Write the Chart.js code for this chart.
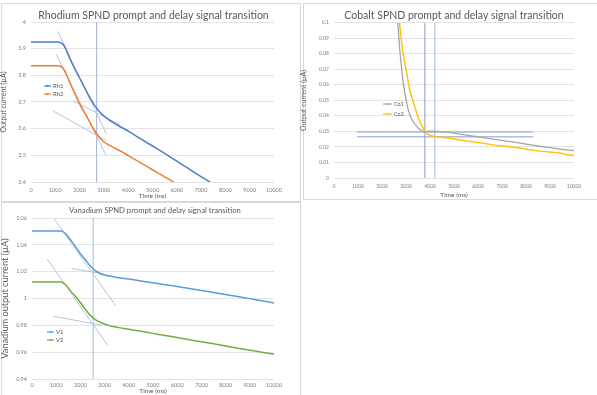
<!DOCTYPE html>
<html><head><meta charset="utf-8">
<script src="https://cdn.jsdelivr.net/npm/chart.js@4.4.0/dist/chart.umd.min.js"></script>
<style>
html,body{margin:0;padding:0;background:#fff;width:597px;height:395px;overflow:hidden;position:relative;}
.box{position:absolute;border:1px solid #d9d9d9;box-sizing:border-box;}
canvas{position:absolute;}
</style></head>
<body>
<div class="box" style="left:1px;top:3px;width:300px;height:199px"></div>
<div class="box" style="left:303px;top:3px;width:295px;height:197px"></div>
<div class="box" style="left:1px;top:202px;width:300px;height:195px"></div>
<div id="w1" style="position:absolute;left:0;top:0;width:300px;height:200px"><canvas id="c1"></canvas></div>
<div id="w2" style="position:absolute;left:300px;top:0;width:297px;height:200px"><canvas id="c2"></canvas></div>
<div id="w3" style="position:absolute;left:0;top:200px;width:300px;height:195px"><canvas id="c3"></canvas></div>
<script>
// ---------- Rhodium ----------
const rhTime = [0,500,1000,1100,1200,1300,1400,1600,1800,2000,2200,2400,2600,2800,3000,3200,3400,3600,3800,4000,4500,5000,5500,6000,6500,7000,7500,8000,9000,10000];
const rh1 = [3.925,3.925,3.925,3.925,3.923,3.918,3.905,3.862,3.825,3.790,3.755,3.720,3.690,3.665,3.648,3.634,3.622,3.611,3.601,3.591,3.563,3.535,3.507,3.478,3.449,3.420,3.392,3.363,3.306,3.249];
const rh2 = [3.836,3.836,3.836,3.836,3.834,3.828,3.815,3.772,3.732,3.693,3.660,3.628,3.595,3.569,3.550,3.539,3.529,3.520,3.510,3.499,3.473,3.446,3.419,3.393,3.366,3.340,3.313,3.287,3.234,3.180];
const rh1SteepX = [1100,3100], rh1SteepY = [3.965,3.580];
const rh2SteepX = [1030,3090], rh2SteepY = [3.880,3.500];
const rh1SlowX = [1740,3650], rh1SlowY = [3.704,3.615];
const rh2SlowX = [900,3100], rh2SlowY = [3.667,3.555];
const rhMarkX = [2700,2700], rhMarkY = [3.4,4.0];
const rhTicksY = [3.4,3.5,3.6,3.7,3.8,3.9,4];

// ---------- Cobalt ----------
const co1Time = [2660,2750,2880,3020,3150,3300,3450,3575,3700,3785,3900,4000,4300,4690,5000,5500,6000,6360,7000,7750,8000,8500,9000,9410,10000];
const co1 = [0.100,0.081,0.0621,0.0492,0.041,0.0364,0.0332,0.0312,0.0302,0.0298,0.0300,0.0301,0.0300,0.0296,0.0289,0.0276,0.0265,0.0257,0.0242,0.0225,0.0218,0.0206,0.0195,0.0186,0.0177];
const co2Time = [2730,2850,3020,3150,3300,3450,3575,3700,3785,3900,4000,4200,4600,4965,5500,6000,6360,7000,7750,8000,8500,9000,9410,9700,10000];
const co2 = [0.100,0.083,0.0686,0.057,0.0492,0.0415,0.0364,0.0325,0.0299,0.0283,0.0276,0.0267,0.0261,0.0253,0.0239,0.0229,0.0220,0.0206,0.0193,0.0185,0.0175,0.0167,0.0161,0.0150,0.0145];
const coH1X = [960,8300], coH1Y = [0.0296,0.0296];
const coH2X = [960,8300], coH2Y = [0.0265,0.0265];
const coV1X = [3785,3785], coV1Y = [0,0.1];
const coV2X = [4200,4200], coV2Y = [0,0.1];
const coTicksY = [0,0.01,0.02,0.03,0.04,0.05,0.06,0.07,0.08,0.09,0.1];

// ---------- Vanadium ----------
const vTime = [0,500,1000,1200,1300,1400,1600,1800,2000,2200,2400,2600,2800,3000,3200,3400,3600,4000,4500,5000,5500,6000,6500,7000,7500,8000,8500,9000,9500,10000];
const v1 = [1.0503,1.0503,1.0503,1.0503,1.0495,1.048,1.0435,1.0385,1.0334,1.029,1.0245,1.021,1.0188,1.0175,1.0167,1.016,1.0155,1.0145,1.0131,1.0117,1.0103,1.0089,1.0074,1.006,1.0045,1.003,1.0015,0.9999,0.9983,0.9967];
const v2 = [1.0123,1.0123,1.0123,1.0123,1.0115,1.010,1.0055,1.0015,0.997,0.992,0.9876,0.9845,0.9825,0.981,0.9798,0.979,0.9783,0.9771,0.9756,0.974,0.9725,0.9709,0.9693,0.9677,0.9662,0.9646,0.963,0.9615,0.96,0.9584];
const v1SteepX = [920,3450], v1SteepY = [1.0593,0.9948];
const v2SteepX = [630,3130], v2SteepY = [1.0294,0.965];
const v1SlowX = [1640,2900], v1SlowY = [1.0224,1.0185];
const v2SlowX = [880,2900], v2SlowY = [0.9868,0.980];
const vMarkX = [2530,2530], vMarkY = [0.94,1.06];
const vTicksY = [0.94,0.96,0.98,1,1.02,1.04,1.06];

const xTicks = [0,1000,2000,3000,4000,5000,6000,7000,8000,9000,10000];

const FONT = 'Lato, "Open Sans", sans-serif';
const pts = (xs, ys) => xs.map((x,i)=>({x, y: ys[i]}));

const series = (label, xs, ys, color, w) => ({label, data: pts(xs,ys), borderColor: color, backgroundColor: color,
  borderWidth: w, pointRadius: 0, cubicInterpolationMode: 'monotone', showInLegend: true});
const helper = (xs, ys, color) => ({label: '', data: pts(xs,ys), borderColor: color, borderWidth: 1,
  pointRadius: 0, tension: 0, showInLegend: false});

const inLegend = {
  id: 'inLegend',
  afterDraw(chart, args, opts) {
    const ctx = chart.ctx; ctx.save();
    ctx.font = `${opts.size}px ${FONT}`; ctx.textBaseline = 'middle'; ctx.textAlign = 'left';
    const items = chart.data.datasets.filter(d => d.showInLegend);
    items.forEach((d, i) => {
      const y = opts.y + i * opts.gap;
      ctx.strokeStyle = d.borderColor; ctx.lineWidth = 1.2;
      ctx.beginPath(); ctx.moveTo(opts.x, y); ctx.lineTo(opts.x + opts.len, y); ctx.stroke();
      ctx.fillStyle = d.borderColor; ctx.beginPath(); ctx.arc(opts.x + opts.len/2, y, 1.1, 0, Math.PI*2); ctx.fill();
      ctx.fillStyle = '#595959'; ctx.fillText(d.label, opts.x + opts.len + 2, y + 0.5);
    });
    ctx.restore();
  }
};

const areaTitle = {
  id: 'areaTitle',
  afterDraw(chart, args, opts) {
    const ctx = chart.ctx, a = chart.chartArea; ctx.save();
    ctx.font = `${opts.size}px ${FONT}`; ctx.fillStyle = '#595959';
    ctx.textAlign = 'center'; ctx.textBaseline = 'middle';
    ctx.fillText(opts.text, (a.left + a.right) / 2 + opts.dx, opts.y);
    ctx.restore();
  }
};

function makeChart(id, cfg) {
  return new Chart(document.getElementById(id), {
    type: 'line',
    data: { datasets: cfg.datasets },
    options: {
      responsive: true, maintainAspectRatio: false, animation: false,
      layout: { padding: { left: 0, right: cfg.padRight, top: cfg.padTop, bottom: 0 } },
      plugins: {
        legend: { display: false }, tooltip: { enabled: false }, title: { display: false },
        areaTitle: cfg.title,
        inLegend: cfg.legend
      },
      scales: {
        x: { type: 'linear', min: 0, max: 10000,
          afterBuildTicks: s => { s.ticks = xTicks.map(v => ({value: v})); },
          afterFit: s => { s.height = cfg.xHeight; },
          grid: { display: false, drawTicks: false, tickLength: 0 }, border: { display: false },
          ticks: { color: '#7f7f7f', font: { family: FONT, size: cfg.tickSize }, padding: cfg.xTickPad, maxRotation: 0, autoSkip: false,
            callback: v => String(v) },
          title: { display: true, text: 'Time (ms)', color: '#595959', font: { family: FONT, size: 6.5 }, padding: { top: 0, bottom: cfg.xTitlePad } } },
        y: { min: cfg.yMin, max: cfg.yMax,
          afterBuildTicks: s => { s.ticks = cfg.yTicks.map(v => ({value: v})); },
          afterFit: s => { s.width = cfg.yWidth; },
          grid: { color: '#e3e3e3', drawTicks: false, lineWidth: 1 }, border: { display: false },
          ticks: { color: '#7f7f7f', font: { family: FONT, size: cfg.tickSize }, padding: 5, autoSkip: false,
            callback: v => String(v) },
          title: { display: true, text: cfg.yTitle, color: '#595959', font: { family: FONT, size: cfg.yTitleSize }, padding: { top: 0, bottom: 2 } } }
      }
    },
    plugins: [areaTitle, inLegend]
  });
}

makeChart('c1', {
  title: { text: 'Rhodium SPND prompt and delay signal transition', size: 10.5, y: 16, dx: 1 },
  padTop: 22,
  yTitle: 'Output current (µA)', yTitleSize: 7, tickSize: 5.5,
  yMin: 3.4, yMax: 4, yTicks: rhTicksY, yWidth: 31, xHeight: 18, padRight: 26, xTickPad: 5, xTitlePad: 0,
  legend: { x: 44, y: 86, gap: 8, len: 7, size: 6 },
  datasets: [
    series('Rh1', rhTime, rh1, '#4f7cc9', 1.5),
    series('Rh2', rhTime, rh2, '#ED7D31', 1.5),
    helper(rh1SteepX, rh1SteepY, '#b4c3e3'),
    helper(rh2SteepX, rh2SteepY, '#b4c3e3'),
    helper(rh1SlowX, rh1SlowY, '#b4c3e3'),
    helper(rh2SlowX, rh2SlowY, '#b4c3e3'),
    helper(rhMarkX, rhMarkY, '#a3b1d6')
  ]
});

makeChart('c2', {
  title: { text: 'Cobalt SPND prompt and delay signal transition', size: 10.5, y: 16, dx: 0 },
  padTop: 22.7,
  yTitle: 'Output current (µA)', yTitleSize: 7, tickSize: 5,
  yMin: 0, yMax: 0.1, yTicks: coTicksY, yWidth: 34, xHeight: 22, padRight: 23, xTickPad: 5, xTitlePad: 1,
  legend: { x: 83, y: 104, gap: 10, len: 9, size: 5.5 },
  datasets: [
    series('Co1', co1Time, co1, '#A5A5A5', 1.3),
    series('Co2', co2Time, co2, '#FFC000', 1.4),
    helper(coH1X, coH1Y, '#8a9cc2'),
    helper(coH2X, coH2Y, '#8a9cc2'),
    helper(coV1X, coV1Y, '#8a9cc2'),
    helper(coV2X, coV2Y, '#a9bad9')
  ]
});

makeChart('c3', {
  title: { text: 'Vanadium SPND prompt and delay signal transition', size: 7.7, y: 11, dx: 2 },
  padTop: 18,
  yTitle: 'Vanadium output current (µA)', yTitleSize: 9.2, tickSize: 5.5,
  yMin: 0.94, yMax: 1.06, yTicks: vTicksY, yWidth: 32, xHeight: 16, padRight: 26, xTickPad: 3, xTitlePad: 0,
  legend: { x: 47, y: 132, gap: 8, len: 7, size: 6 },
  datasets: [
    series('V1', vTime, v1, '#5B9BD5', 1.5),
    series('V2', vTime, v2, '#70AD47', 1.5),
    helper(v1SteepX, v1SteepY, '#b4c3e3'),
    helper(v2SteepX, v2SteepY, '#b4c3e3'),
    helper(v1SlowX, v1SlowY, '#b4c3e3'),
    helper(v2SlowX, v2SlowY, '#b4c3e3'),
    helper(vMarkX, vMarkY, '#9dc3e6')
  ]
});
</script>
</body></html>
